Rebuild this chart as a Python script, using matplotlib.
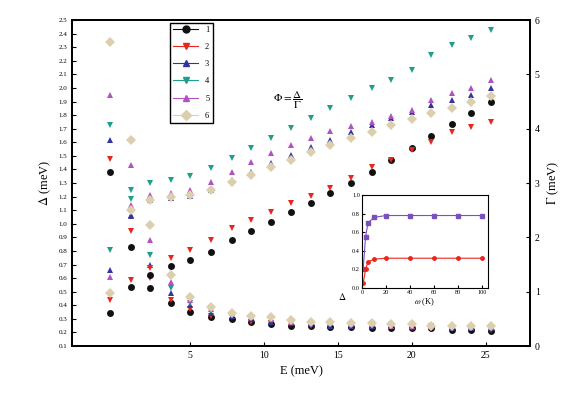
import matplotlib
matplotlib.use('Agg')
import matplotlib.pyplot as plt
import numpy as np

plt.rcParams['font.family'] = ['Liberation Serif', 'DejaVu Serif']
plt.rcParams['mathtext.fontset'] = 'stix'

# x positions of the data columns
x = [-0.4, 1.0, 2.3, 3.7, 5.0, 6.4, 7.8, 9.1, 10.5, 11.8,
     13.2, 14.5, 15.9, 17.3, 18.6, 20.0, 21.3, 22.7, 24.0, 25.4]

labels = ['1', '2', '3', '4', '5', '6']
colors = ['#111111', '#e8261c', '#34349e', '#1f9e89', '#b052c0', '#dccfae']
markers = ['o', 'v', '^', 'v', '^', 'D']

# decreasing branch (left axis)
black_dec = [1.38, 0.83, 0.53, 0.42, 0.35, 0.31, 0.30, 0.28, 0.26, 0.25, 0.25, 0.24, 0.24, 0.23, 0.23, 0.23, 0.23, 0.22, 0.22, 0.21]
red_dec = [1.48, 0.95, 0.60, 0.44, 0.37, 0.32, 0.31, 0.28, 0.27, 0.26, 0.25, 0.25, 0.25, 0.24, 0.24, 0.23, 0.23, 0.23, 0.23, 0.22]
blue_dec = [1.62, 1.06, 0.70, 0.49, 0.40, 0.34, 0.32, 0.30, 0.28, 0.27, 0.26, 0.25, 0.25, 0.25, 0.25, 0.24, 0.24, 0.23, 0.23, 0.23]
teal_dec = [1.73, 1.18, 0.77, 0.53, 0.42, 0.36, 0.33, 0.31, 0.29, 0.28, 0.27, 0.26, 0.26, 0.25, 0.25, 0.25, 0.25, 0.24, 0.24, 0.23]
mag_dec = [1.95, 1.43, 0.88, 0.57, 0.44, 0.37, 0.34, 0.31, 0.30, 0.28, 0.28, 0.27, 0.26, 0.26, 0.25, 0.25, 0.25, 0.25, 0.24, 0.24]
tan_dec = [2.34, 1.62, 0.99, 0.62, 0.46, 0.39, 0.34, 0.32, 0.31, 0.29, 0.28, 0.28, 0.27, 0.27, 0.26, 0.26, 0.25, 0.25, 0.25, 0.25]

# increasing branch (right axis)
black_inc = [0.61, 1.09, 1.31, 1.47, 1.58, 1.73, 1.95, 2.12, 2.28, 2.47, 2.63, 2.82, 3.00, 3.20, 3.42, 3.64, 3.87, 4.09, 4.29, 4.49]
red_inc = [0.85, 1.21, 1.44, 1.62, 1.77, 1.95, 2.17, 2.32, 2.47, 2.63, 2.76, 2.91, 3.09, 3.29, 3.42, 3.61, 3.75, 3.94, 4.03, 4.12]
blue_inc = [1.40, 2.41, 2.69, 2.72, 2.76, 2.87, 3.06, 3.20, 3.37, 3.52, 3.66, 3.79, 3.94, 4.07, 4.20, 4.31, 4.44, 4.53, 4.62, 4.75]
mag_inc = [1.27, 2.60, 2.78, 2.82, 2.87, 3.02, 3.20, 3.39, 3.55, 3.70, 3.83, 3.96, 4.05, 4.12, 4.23, 4.34, 4.53, 4.66, 4.75, 4.90]
teal_inc = [1.77, 2.87, 3.00, 3.06, 3.13, 3.28, 3.46, 3.64, 3.83, 4.01, 4.20, 4.38, 4.56, 4.75, 4.90, 5.08, 5.36, 5.54, 5.67, 5.82]
tan_inc = [0.98, 2.50, 2.69, 2.74, 2.78, 2.87, 3.02, 3.15, 3.29, 3.42, 3.57, 3.70, 3.83, 3.94, 4.07, 4.18, 4.29, 4.38, 4.49, 4.60]

dec = [black_dec, red_dec, blue_dec, teal_dec, mag_dec, tan_dec]
inc = [black_inc, red_inc, blue_inc, teal_inc, mag_inc, tan_inc]

# inset data
x_in = [1, 3, 5, 10, 20, 40, 60, 80, 100]
purple_in = [0.20, 0.55, 0.70, 0.76, 0.78, 0.78, 0.78, 0.78, 0.78]
red_in = [0.05, 0.20, 0.28, 0.31, 0.32, 0.32, 0.32, 0.32, 0.32]

fig = plt.figure(figsize=(5.81, 4.09), dpi=100)
ax = fig.add_axes([0.124, 0.154, 0.788, 0.797])
ax2 = ax.twinx()

for i in range(6):
    ax.plot(x, dec[i], linestyle='None', marker=markers[i],
            color=colors[i], markersize=5, markeredgewidth=0)
    ax2.plot(x, inc[i], linestyle='None', marker=markers[i], color=colors[i],
             markersize=5, markeredgewidth=0)

ax.set_xlim(-3, 28)
ax.set_ylim(0.1, 2.5)
ax2.set_ylim(0, 6)
ax.set_xticks([5, 10, 15, 20, 25])
ax.set_yticks(np.round(np.arange(0.1, 2.51, 0.1), 1))
ax.tick_params(axis='y', labelsize=5, direction='in', length=3)
ax.tick_params(axis='x', labelsize=7, direction='in', length=3)
ax2.set_yticks([0, 1, 2, 3, 4, 5, 6])
ax2.tick_params(axis='y', labelsize=7, direction='in', length=3)
for a in (ax, ax2):
    for s in a.spines.values():
        s.set_linewidth(1.3)

ax.set_xlabel('E (meV)', fontsize=9)
ax.set_ylabel(r'$\Delta$ (meV)', fontsize=9)
ax2.set_ylabel(r'$\Gamma$ (meV)', fontsize=9)

leg = ax.legend(handles=[plt.Line2D([], [], color=colors[i], marker=markers[i],
                                    markersize=5, linewidth=0.8, label=labels[i])
                         for i in range(6)],
                loc='upper left', bbox_to_anchor=(0.205, 1.005), fontsize=6,
                handlelength=3.0, labelspacing=1.1, borderpad=0.4,
                fancybox=False, edgecolor='black', framealpha=1)
leg.get_frame().set_linewidth(1.0)

ax.text(0.47, 0.755, r'$\Phi=\dfrac{\Delta}{\Gamma}$', transform=ax.transAxes,
        fontsize=8, ha='center', va='center')
ax.text(0.58, 0.14, r'$\Delta$', transform=ax.transAxes, fontsize=7)

# inset
axi = fig.add_axes([0.623, 0.296, 0.217, 0.227])
axi.plot(x_in, purple_in, color='#7a4fc0', marker='s', markersize=2.5, linewidth=0.8)
axi.plot(x_in, red_in, color='#e8261c', marker='o', markersize=2.5, linewidth=0.8)
axi.set_xlim(0, 105)
axi.set_ylim(0, 1)
axi.set_xticks([0, 20, 40, 60, 80, 100])
axi.set_yticks([0, 0.2, 0.4, 0.6, 0.8, 1.0])
axi.tick_params(labelsize=4.5, direction='in', length=2, pad=1.5)
axi.set_xlabel(r'$\omega$ (K)', fontsize=6, labelpad=1)

fig.savefig('out.png', dpi=100)
